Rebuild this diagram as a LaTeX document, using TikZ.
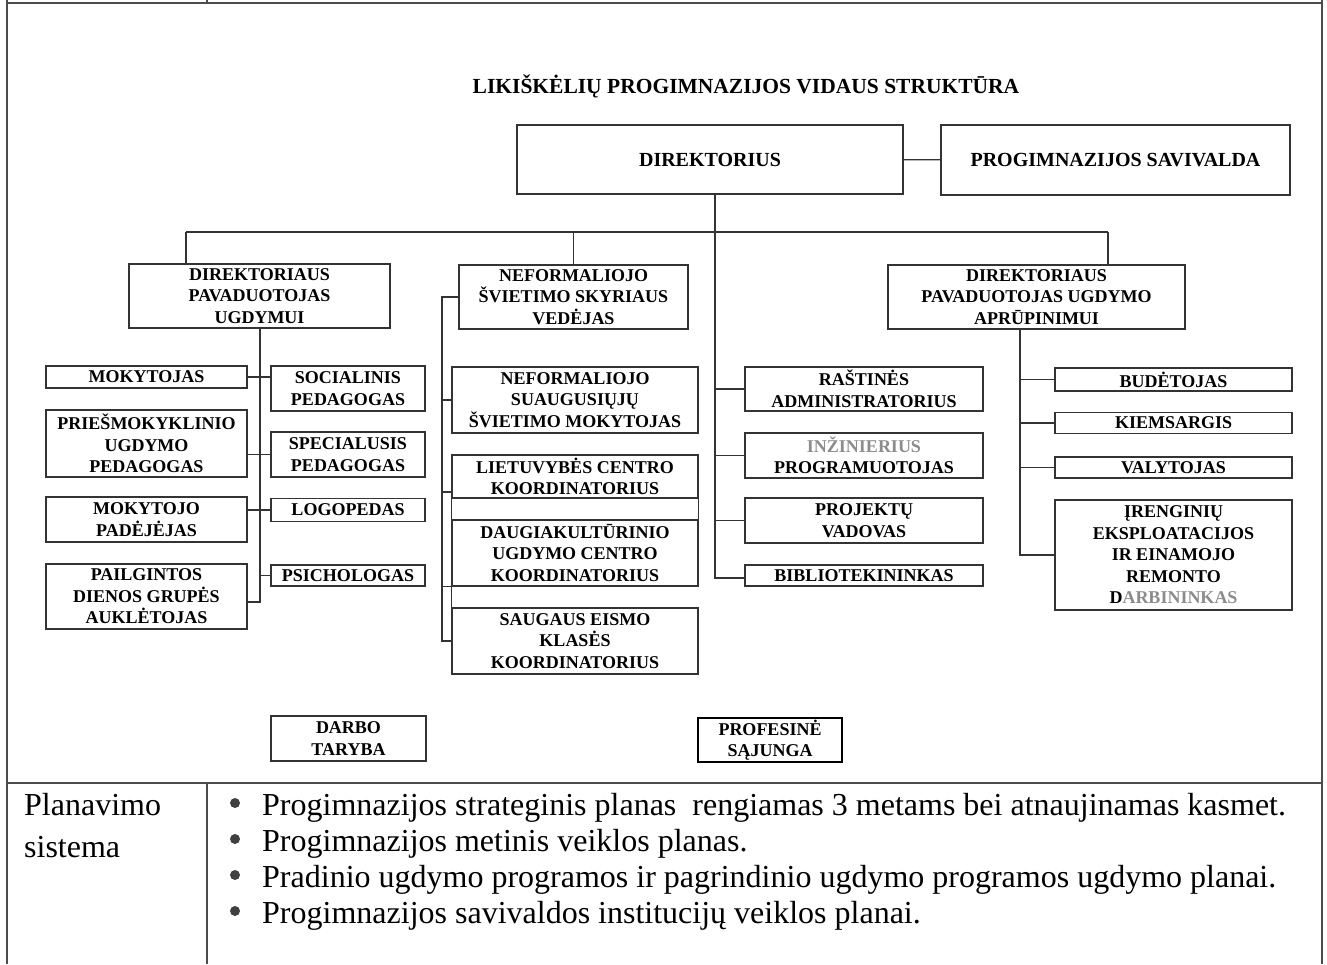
\documentclass[tikz,border=0pt]{standalone}
\usepackage{fontspec}
\setmainfont{Liberation Serif}

\begin{document}
\begin{tikzpicture}[x=1pt,y=-1pt,
    box/.style={draw=black!80, line width=1.1pt, align=center, inner sep=0pt,
      font=\fontsize{18}{21.5}\selectfont\bfseries},
    bigbox/.style={box, font=\fontsize{20}{24}\selectfont\bfseries},
    link/.style={draw=black!80, line width=1.1pt},
    rule/.style={draw=black!70, line width=1.3pt},
    dot/.style={circle, fill=black!75, inner sep=0pt, minimum size=10pt},
    item/.style={anchor=base west, inner sep=0pt, font=\fontsize{32}{36}\selectfont}]
        \useasboundingbox (0,0) rectangle (1327,964);

        % table frame
        \draw[rule] (7,0) -- (7,964);
        \draw[rule] (1322,0) -- (1322,964);
        \draw[rule] (7,3) -- (1322,3);
        \draw[rule] (207,0) -- (207,3);
        \draw[rule] (7,783) -- (1322,783);
        \draw[rule] (207,783) -- (207,964);

        \node[inner sep=0pt, font=\fontsize{21.5}{26}\selectfont\bfseries] (title) at (746,86) {LIKIŠKĖLIŲ PROGIMNAZIJOS VIDAUS STRUKTŪRA};

        \node[bigbox, minimum width=386pt, minimum height=69pt] (dir) at (710,159.5) {DIREKTORIUS};
        \node[bigbox, minimum width=349pt, minimum height=70pt] (sav) at (1115.5,160) {PROGIMNAZIJOS SAVIVALDA};

        \node[box, minimum width=261pt, minimum height=64pt] (pavug) at (259.5,296) {DIREKTORIAUS\\PAVADUOTOJAS\\UGDYMUI};
        \node[box, minimum width=229pt, minimum height=64pt] (nef) at (573.5,297) {NEFORMALIOJO\\ŠVIETIMO SKYRIAUS\\VEDĖJAS};
        \node[box, minimum width=297pt, minimum height=64pt] (pavapr) at (1036.5,297) {DIREKTORIAUS\\PAVADUOTOJAS UGDYMO\\APRŪPINIMUI};

        \node[box, minimum width=201pt, minimum height=22pt] (mok) at (146.5,377) {MOKYTOJAS};
        \node[box, minimum width=201pt, minimum height=67pt] (pries) at (146.5,443.5) {PRIEŠMOKYKLINIO\\UGDYMO\\PEDAGOGAS};
        \node[box, minimum width=201pt, minimum height=45pt] (padej) at (146.5,519.5) {MOKYTOJO\\PADĖJĖJAS};
        \node[box, minimum width=201pt, minimum height=65pt] (pailg) at (146.5,596.5) {PAILGINTOS\\DIENOS GRUPĖS\\AUKLĖTOJAS};
        \node[box, minimum width=154pt, minimum height=45pt] (soc) at (348,388.5) {SOCIALINIS\\PEDAGOGAS};
        \node[box, minimum width=154pt, minimum height=45pt] (spec) at (348,454.5) {SPECIALUSIS\\PEDAGOGAS};
        \node[box, minimum width=154pt, minimum height=23pt] (logo) at (348,510) {LOGOPEDAS};
        \node[box, minimum width=154pt, minimum height=21pt] (psich) at (348,575.5) {PSICHOLOGAS};

        \node[box, minimum width=246pt, minimum height=66pt] (suaug) at (575,400) {NEFORMALIOJO\\SUAUGUSIŲJŲ\\ŠVIETIMO MOKYTOJAS};
        \node[box, minimum width=246pt, minimum height=43pt] (liet) at (575,476.5) {LIETUVYBĖS CENTRO\\KOORDINATORIUS};
        \node[box, minimum width=246pt, minimum height=66pt] (daug) at (575,553) {DAUGIAKULTŪRINIO\\UGDYMO CENTRO\\KOORDINATORIUS};
        \node[box, minimum width=246pt, minimum height=66pt] (saug) at (575,641) {SAUGAUS EISMO\\KLASĖS\\KOORDINATORIUS};

        \node[box, minimum width=238pt, minimum height=44pt] (rast) at (864,389) {RAŠTINĖS\\ADMINISTRATORIUS};
        \node[box, minimum width=238pt, minimum height=45pt] (inz) at (864,455.5) {\textcolor{black!45}{INŽINIERIUS}\\PROGRAMUOTOJAS};
        \node[box, minimum width=238pt, minimum height=45pt] (proj) at (864,520.5) {PROJEKTŲ\\VADOVAS};
        \node[box, minimum width=238pt, minimum height=21pt] (bibl) at (864,575.5) {BIBLIOTEKININKAS};

        \node[box, minimum width=237pt, minimum height=23pt] (bud) at (1173.5,379.5) {BUDĖTOJAS};
        \node[box, minimum width=237pt, minimum height=21pt] (kiem) at (1173.5,423) {KIEMSARGIS};
        \node[box, minimum width=237pt, minimum height=21pt] (valy) at (1173.5,467.5) {VALYTOJAS};
        \node[box, minimum width=237pt, minimum height=110pt] (iren) at (1173.5,555) {ĮRENGINIŲ\\EKSPLOATACIJOS\\IR EINAMOJO\\REMONTO\\D\textcolor{black!45}{ARBININKAS}};

        \node[box, minimum width=155pt, minimum height=45pt] (darbo) at (348.5,738.5) {DARBO\\TARYBA};
        \node[box, draw=black, line width=1.6pt, minimum width=144pt, minimum height=44pt] (prof) at (770,740) {PROFESINĖ\\SĄJUNGA};

        % top level
        \draw[link] (dir) -- (sav);
        \coordinate (bl) at (186,232);
        \coordinate (br) at (1108,232);
        \draw[link] (bl) -- (br);
        \draw[link] (bl) -- (bl |- pavug.north);
        \draw[link] (nef.north |- bl) -- (nef.north);
        \draw[link] (br) -- (br |- pavapr.north);

        % centre
        \coordinate (tc) at (715,578);
        \draw[link] (dir.south -| tc) -- (tc) -- (tc -| bibl.west);
        \foreach \n in {rast,inz,proj}
          \draw[link] (\n.west -| tc) -- (\n.west);

        % left
        \coordinate (tl) at (260,602);
        \draw[link] (tl |- pavug.south) -- (tl) -- (tl -| pailg.east);
        \draw[link] (mok.east) -- (mok.east -| soc.west);
        \draw[link] (pries.east |- spec.west) -- (spec.west);
        \draw[link] (padej.east |- logo.west) -- (logo.west);
        \draw[link] (psich.west -| tl) -- (psich.west);

        % middle
        \coordinate (tm) at (442,641);
        \draw[link] (nef.west) -- (nef.west -| tm) -- (tm) -- (saug.west);
        \draw[link] (suaug.west -| tm) -- (suaug.west);
        \draw[link] (tm |- 0,492) -- (liet.west |- 0,492);
        \draw[link] (daug.south west -| tm) -- (daug.south west);
        \draw[link] (liet.south west) -- (daug.north west) (liet.south east) -- (daug.north east);
        \draw[link] (daug.south west) -- (saug.north west);

        % right
        \coordinate (tr) at (1020,555);
        \draw[link] (tr |- pavapr.south) -- (tr) -- (iren.west);
        \foreach \n in {bud,kiem,valy}
          \draw[link] (\n.west -| tr) -- (\n.west);

        % planning row
        \node[item] (plan) at (24,815) {Planavimo};
        \node[item] (sist) at (24,857) {sistema};
        \foreach \i/\t in {1/Progimnazijos strateginis planas\ \ rengiamas 3 metams bei atnaujinamas kasmet.,
                           2/Progimnazijos metinis veiklos planas.,
                           3/Pradinio ugdymo programos ir pagrindinio ugdymo programos ugdymo planai.,
                           4/Progimnazijos savivaldos institucijų veiklos planai.}
        {
          \node[dot] (dot\i) at (235,{767+36*\i}) {};
          \node[item] (item\i) at (262,{779+36*\i}) {\t};
        }
      \end{tikzpicture}
\end{document}
